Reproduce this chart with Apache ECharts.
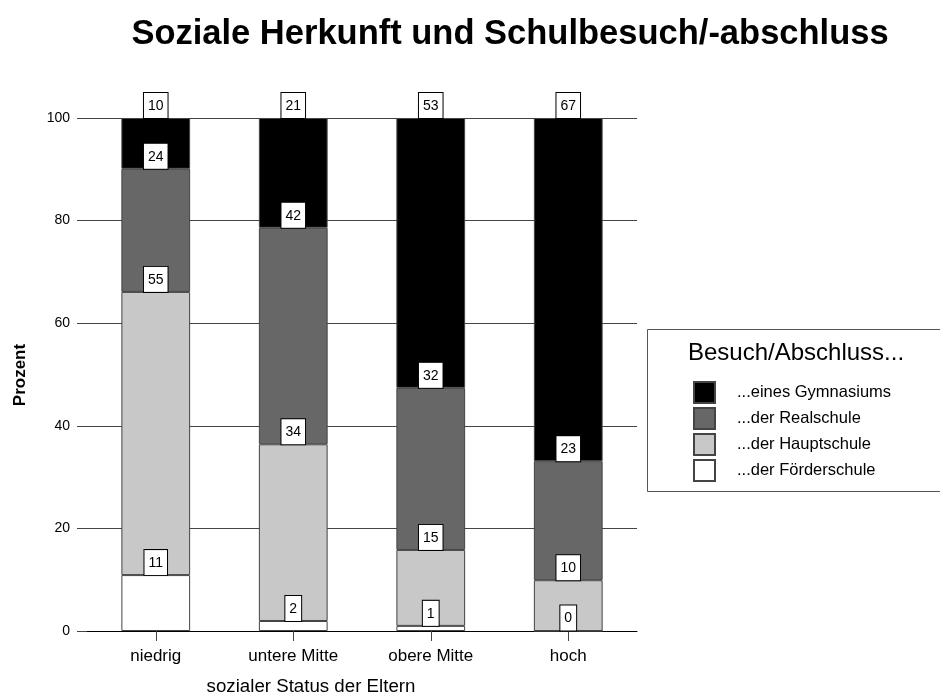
<!DOCTYPE html>
<html>
<head>
<meta charset="utf-8">
<script src="https://cdn.jsdelivr.net/npm/echarts@6/dist/echarts.min.js"></script>
<style>html,body{margin:0;padding:0;background:#fff;}#c{width:940px;height:698px;}</style>
</head>
<body>
<div id="c"></div>
<script>
const categories = ['niedrig', 'untere Mitte', 'obere Mitte', 'hoch'];
const foerderschule = [10.9, 1.95, 1.0, 0];
const hauptschule = [55.2, 34.45, 14.8, 9.9];
const realschule = [24.0, 42.2, 31.6, 23.2];
const gymnasium = [9.9, 21.4, 52.6, 66.9];
const yTicks = [0, 20, 40, 60, 80, 100];

const FONT = '"Liberation Sans", Arial, sans-serif';
const chart = echarts.init(document.getElementById('c'), null, {renderer: 'canvas'});

function mk(name, data, color) {
  return {
    name: name, type: 'bar', stack: 's', data: data, barWidth: '50%',
    itemStyle: {color: color, borderColor: '#444', borderWidth: 1},
    label: {
      show: true, position: 'top', distance: 0,
      formatter: p => String(Math.round(p.value)),
      fontFamily: FONT, fontSize: 14, color: '#000', lineHeight: 16,
      backgroundColor: '#fff', borderColor: '#000', borderWidth: 1,
      padding: [5, 4, 4, 4]
    },
    emphasis: {disabled: true}
  };
}

chart.setOption({
  animation: false,
  textStyle: {fontFamily: FONT},
  title: {
    text: 'Soziale Herkunft und Schulbesuch/-abschluss',
    left: 510, textAlign: 'center', top: 17, padding: 0,
    textStyle: {fontFamily: FONT, fontSize: 34.5, fontWeight: 'bold', color: '#000'}
  },
  grid: {left: 87, right: 303, top: 118, bottom: 67, containLabel: false},
  xAxis: {
    type: 'category', data: categories,
    axisLine: {show: true, lineStyle: {color: '#000', width: 1}},
    axisTick: {show: true, alignWithLabel: true, length: 10, lineStyle: {color: '#444'}},
    axisLabel: {fontFamily: FONT, fontSize: 17, color: '#000', margin: 17}
  },
  yAxis: {
    type: 'value', min: yTicks[0], max: yTicks[yTicks.length - 1], interval: 20,
    axisLine: {show: false},
    axisTick: {show: true, length: 10, lineStyle: {color: '#444'}},
    axisLabel: {fontFamily: FONT, fontSize: 14, color: '#000', margin: 17},
    splitLine: {show: true, lineStyle: {color: '#444', width: 1}}
  },
  legend: {
    orient: 'vertical', left: 693, top: 381, padding: 0,
    itemWidth: 21, itemHeight: 21, itemGap: 3,
    icon: 'rect',
    data: ['...eines Gymnasiums', '...der Realschule', '...der Hauptschule', '...der Förderschule'],
    textStyle: {fontFamily: FONT, fontSize: 16.5, lineHeight: 21, color: '#000', padding: [0, 0, 0, 17]}
  },
  graphic: [
    {type: 'rect', shape: {x: 647.5, y: 329.5, width: 320, height: 162}, style: {fill: 'none', stroke: '#555', lineWidth: 1}, z: 0},
    {type: 'text', x: 688, y: 353, style: {text: 'Besuch/Abschluss...', font: '24px ' + FONT, fill: '#000', textVerticalAlign: 'middle'}},
    {type: 'text', x: 311, y: 687, style: {text: 'sozialer Status der Eltern', font: '18.7px ' + FONT, fill: '#000', textAlign: 'center', textVerticalAlign: 'middle'}},
    {type: 'text', x: 20, y: 375, rotation: Math.PI / 2, style: {text: 'Prozent', font: 'bold 17px ' + FONT, fill: '#000', textAlign: 'center', textVerticalAlign: 'middle'}}
  ],
  series: [
    mk('...der Förderschule', foerderschule, '#ffffff'),
    mk('...der Hauptschule', hauptschule, '#c8c8c8'),
    mk('...der Realschule', realschule, '#676767'),
    mk('...eines Gymnasiums', gymnasium, '#000000')
  ]
});
</script>
</body>
</html>
